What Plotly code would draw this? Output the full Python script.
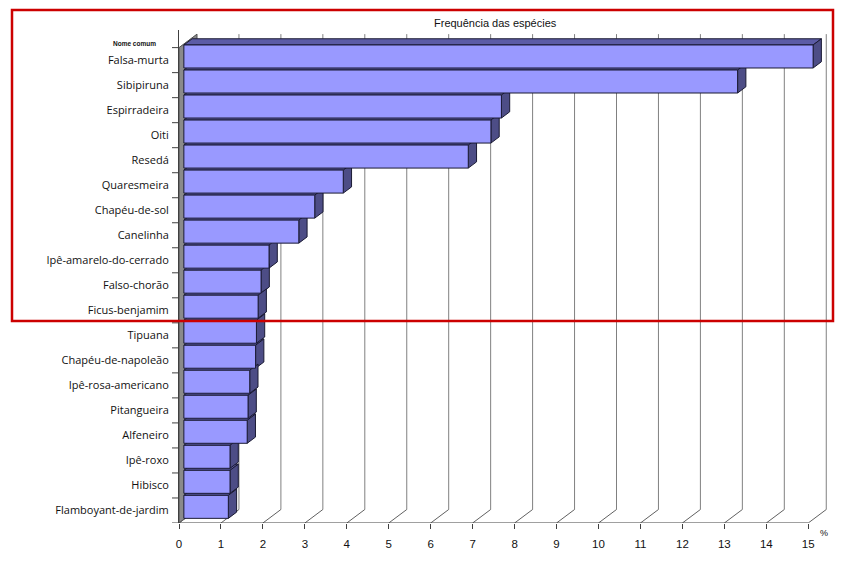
import plotly.graph_objects as go

# Species (top to bottom) and their frequency in %
species = [
    "Falsa-murta", "Sibipiruna", "Espirradeira", "Oiti", "Resedá",
    "Quaresmeira", "Chapéu-de-sol", "Canelinha", "Ipê-amarelo-do-cerrado",
    "Falso-chorão", "Ficus-benjamim", "Tipuana", "Chapéu-de-napoleão",
    "Ipê-rosa-americano", "Pitangueira", "Alfeneiro", "Ipê-roxo",
    "Hibisco", "Flamboyant-de-jardim",
]
freq = [
    15.0, 13.2, 7.57, 7.32, 6.78,
    3.80, 3.12, 2.74, 2.03,
    1.84, 1.77, 1.73, 1.71,
    1.57, 1.53, 1.51, 1.10,
    1.10, 1.06,
]
x_ticks = list(range(0, 16))

W, H = 860, 577
ML, MR, MT, MB = 179, 15, 30, 54
PW, PH = W - ML - MR, H - MT - MB
UX = 41.95            # px per % on the front floor
UY = 25.02            # px per category slot
XR = PW / UX
Y0 = -0.5
YR = Y0 + PH / UY

# 3D depth of the chart box and of the bars (data units)
DX, DY = 18 / UX, 13.5 / UY
BOFF = 0.27           # bar front plane, fraction of depth
BDEP = 0.46           # bar depth, fraction of depth
BW = 0.92             # bar thickness

n = len(species)
ypos = [n - 1 - i for i in range(n)]
top = n - 0.5


def px_x(p):
    return (p - ML) / PW


def px_y(p):
    return (H - MB - p) / PH


shapes = []
GRID = "#808080"

# left wall
shapes.append(dict(type="path", xref="x", yref="y", layer="below",
                   path=f"M0,{Y0} L{DX},{Y0+DY} L{DX},{top+DY} L0,{top} Z",
                   fillcolor="#8a8a8a", line=dict(color="#505050", width=1)))
# back wall gridlines and floor depth lines
for t in x_ticks:
    if t > 0:
        shapes.append(dict(type="line", xref="x", yref="y", layer="below",
                           x0=t + DX, x1=t + DX, y0=Y0 + DY, y1=top + DY,
                           line=dict(color=GRID, width=1)))
    shapes.append(dict(type="line", xref="x", yref="y", layer="below",
                       x0=t, x1=t + DX, y0=Y0, y1=Y0 + DY,
                       line=dict(color="#606060", width=1)))
# front floor line
shapes.append(dict(type="line", xref="x", yref="y", layer="below",
                   x0=0, x1=x_ticks[-1], y0=Y0, y1=Y0,
                   line=dict(color="#404040", width=1)))
# category boundary ticks on the value-axis wall
for k in range(n + 1):
    shapes.append(dict(type="line", xref="paper", yref="y", layer="above",
                       x0=px_x(172), x1=px_x(179), y0=k - 0.5, y1=k - 0.5,
                       line=dict(color="#404040", width=1)))

# top and side faces of the bars
bx0 = BOFF * DX
by0 = BOFF * DY
ddx, ddy = BDEP * DX, BDEP * DY
TOP_C, SIDE_C, EDGE = "#5c5ca6", "#4d4d86", "#1a1a33"
for v, yc in zip(freq, ypos):
    yt = yc + by0 + BW / 2
    xe = bx0 + v
    shapes.append(dict(type="path", xref="x", yref="y", layer="below",
                       path=(f"M{bx0},{yt} L{bx0+ddx},{yt+ddy} "
                             f"L{xe+ddx},{yt+ddy} L{xe},{yt} Z"),
                       fillcolor=TOP_C, line=dict(color=EDGE, width=1)))
for v, yc in zip(freq, ypos):
    yb = yc + by0 - BW / 2
    yt = yc + by0 + BW / 2
    xe = bx0 + v
    shapes.append(dict(type="path", xref="x", yref="y", layer="below",
                       path=(f"M{xe},{yb} L{xe+ddx},{yb+ddy} "
                             f"L{xe+ddx},{yt+ddy} L{xe},{yt} Z"),
                       fillcolor=SIDE_C, line=dict(color=EDGE, width=1)))

# highlight frame
shapes.append(dict(type="rect", xref="paper", yref="paper", layer="above",
                   x0=px_x(12), x1=px_x(833), y0=px_y(321), y1=px_y(10),
                   line=dict(color="#cc0000", width=2.5)))

fig = go.Figure()
fig.add_trace(go.Bar(
    orientation="h",
    y=[yc + by0 for yc in ypos],
    x=freq,
    base=bx0,
    width=BW,
    marker=dict(color="#9999ff", line=dict(color="#1a1a33", width=1)),
    hovertext=species,
    showlegend=False,
))

fig.update_layout(
    width=W, height=H,
    margin=dict(l=ML, r=MR, t=MT, b=MB, pad=0),
    paper_bgcolor="white", plot_bgcolor="white",
    shapes=shapes,
    xaxis=dict(range=[0, XR], tickvals=x_ticks, ticktext=[str(t) for t in x_ticks],
               ticks="outside", ticklen=5, tickcolor="#404040",
               showgrid=False, zeroline=False, showline=False,
               tickfont=dict(family="Liberation Sans, Arial", size=11.5, color="#111"),
               ticklabelstandoff=5, fixedrange=True),
    yaxis=dict(range=[Y0, YR], tickvals=ypos, ticktext=species,
               ticks="", showgrid=False, zeroline=False,
               showline=True, linecolor="#404040", linewidth=1,
               tickfont=dict(family="Open Sans", size=11, color="#111"),
               ticklabelstandoff=7, fixedrange=True),
    annotations=[
        dict(text="Frequência das espécies", xref="paper", yref="paper",
             x=px_x(495), y=px_y(23), xanchor="center", yanchor="middle",
             showarrow=False,
             font=dict(family="Liberation Sans, Arial", size=11, color="#111")),
        dict(text="<b>Nome comum</b>", xref="paper", yref="paper",
             x=px_x(134), y=px_y(44), xanchor="center", yanchor="middle",
             showarrow=False,
             font=dict(family="Liberation Sans, Arial", size=6.5, color="#111")),
        dict(text="%", xref="paper", yref="paper",
             x=px_x(824), y=px_y(533), xanchor="center", yanchor="middle",
             showarrow=False,
             font=dict(family="Liberation Sans, Arial", size=9, color="#111")),
    ],
)

fig.write_html("out.html")
